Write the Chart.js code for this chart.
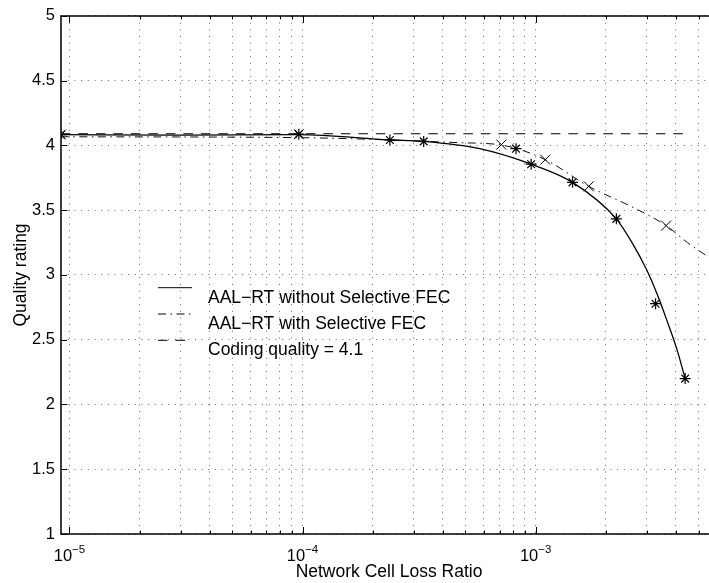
<!DOCTYPE html>
<html>
<head>
<meta charset="utf-8">
<script src="https://cdn.jsdelivr.net/npm/chart.js@4.4.0/dist/chart.umd.min.js"></script>
<style>
html,body{margin:0;padding:0;background:#fff;overflow:hidden}
#wrap{width:709px;height:583px;overflow:hidden}
canvas{display:block}
</style>
</head>
<body>
<div id="wrap"><canvas id="qualityChart" width="725" height="583"></canvas></div>
<script>
// values
const solidCurveX = [9.19e-6, 3.0e-5, 9.64e-5, 2.37e-4, 3.31e-4, 5.75e-4, 9.57e-4, 1.44e-3, 2.22e-3, 2.61e-3, 2.98e-3, 3.34e-3, 3.68e-3, 4.03e-3, 4.38e-3]
const solidCurveY = [4.083, 4.080, 4.083, 4.042, 4.031, 3.975, 3.855, 3.715, 3.433, 3.240, 3.048, 2.842, 2.636, 2.431, 2.200]

const dashDotCurveX = [9.19e-6, 9.64e-5, 2.14e-4, 4.72e-4, 7.13e-4, 1.10e-3, 1.69e-3, 2.63e-3, 3.63e-3, 4.48e-3, 5.51e-3]
const dashDotCurveY = [4.067, 4.060, 4.045, 4.021, 4.003, 3.890, 3.684, 3.520, 3.381, 3.250, 3.139]

const starX = [9.19e-6, 9.64e-5, 2.37e-4, 3.31e-4, 8.24e-4, 9.57e-4, 1.44e-3, 2.22e-3, 3.27e-3, 4.38e-3]
const starY = [4.083, 4.087, 4.042, 4.031, 3.975, 3.855, 3.715, 3.433, 2.778, 2.200]

const crossX = [9.19e-6, 9.64e-5, 7.13e-4, 1.10e-3, 1.69e-3, 3.63e-3]
const crossY = [4.083, 4.087, 4.006, 3.890, 3.684, 3.381]

const codingX = [9.19e-6, 4.43e-3]
const codingY = [4.09, 4.09]

const legendLabels = ['AAL\u2212RT without Selective FEC', 'AAL\u2212RT with Selective FEC', 'Coding quality = 4.1']

const xMin = 9.2e-6
const xMax = 6e-3
const xDecades = [1e-5, 1e-4, 1e-3]
const xDecadeLabels = ['\u22125', '\u22124', '\u22123']
const xMinorSteps = [2, 3, 4, 5, 6, 7, 8, 9]
const yTicks = [1, 1.5, 2, 2.5, 3, 3.5, 4, 4.5, 5]

const FONT = "'Liberation Sans', Arial, Helvetica, sans-serif"

const xTicks = []
xDecades.forEach(d=>{
  xTicks.push({value:d, major:true})
  xMinorSteps.forEach(m=>{
    if(d*m < xMax) xTicks.push({value:d*m, major:false})
  })
})

const pts = (xs, ys) => xs.map((x,i)=>({x, y:ys[i]}))

const solidDash = []
const dashDot = [8, 4.5, 1.5, 4.5]
const dashed = [9.5, 8]

const frameAndLegend = {
  id:'frameAndLegend',
  afterDraw(chart){
    const {ctx, chartArea:a, scales:{x, y}} = chart
    ctx.save()

    // axes box (left, top, bottom)
    ctx.strokeStyle = '#000'
    ctx.lineWidth = 1.5
    ctx.beginPath()
    ctx.moveTo(a.right, a.top)
    ctx.lineTo(a.left, a.top)
    ctx.lineTo(a.left, a.bottom)
    ctx.lineTo(a.right, a.bottom)
    ctx.stroke()

    // tick marks pointing inwards
    ctx.lineWidth = 1
    ctx.beginPath()
    xTicks.forEach(t=>{
      const px = Math.round(x.getPixelForValue(t.value)) + 0.5
      const len = t.major ? 7 : 3.5
      ctx.moveTo(px, a.bottom); ctx.lineTo(px, a.bottom - len)
      ctx.moveTo(px, a.top); ctx.lineTo(px, a.top + len)
    })
    yTicks.forEach(v=>{
      const py = Math.round(y.getPixelForValue(v)) + 0.5
      ctx.moveTo(a.left, py); ctx.lineTo(a.left + 6, py)
    })
    ctx.stroke()

    // x tick labels as 10^n
    ctx.fillStyle = '#000'
    ctx.textAlign = 'left'
    ctx.textBaseline = 'alphabetic'
    xDecades.forEach((d,i)=>{
      const px = x.getPixelForValue(d)
      ctx.font = '16.5px ' + FONT
      const wb = ctx.measureText('10').width
      ctx.font = '11.5px ' + FONT
      const ws = ctx.measureText(xDecadeLabels[i]).width
      const x0 = px - (wb + ws) / 2
      ctx.font = '16.5px ' + FONT
      ctx.fillText('10', x0, a.bottom + 27)
      ctx.font = '11.5px ' + FONT
      ctx.fillText(xDecadeLabels[i], x0 + wb, a.bottom + 18.5)
    })

    // legend, no box
    const styles = [solidDash, dashDot, dashed]
    ctx.font = '17.5px ' + FONT
    legendLabels.forEach((label,i)=>{
      const ly = 287.7 + i * 26.3
      ctx.setLineDash(styles[i])
      ctx.strokeStyle = '#000'
      ctx.lineWidth = 1
      ctx.beginPath()
      ctx.moveTo(158, ly); ctx.lineTo(192, ly)
      ctx.stroke()
      ctx.setLineDash([])
      ctx.fillText(label, 208, ly + 15)
    })
    ctx.restore()
  }
}

new Chart(document.getElementById('qualityChart'),{
  type:'scatter',
  data:{
    datasets:[
      {
        label:legendLabels[0],
        data:pts(solidCurveX, solidCurveY),
        showLine:true,
        borderColor:'#000',
        borderWidth:1.3,
        borderDash:solidDash,
        pointRadius:0,
        cubicInterpolationMode:'monotone'
      },
      {
        label:legendLabels[1],
        data:pts(dashDotCurveX, dashDotCurveY),
        showLine:true,
        borderColor:'#111',
        borderWidth:1,
        borderDash:dashDot,
        pointRadius:0,
        cubicInterpolationMode:'monotone'
      },
      {
        label:legendLabels[2],
        data:pts(codingX, codingY),
        showLine:true,
        borderColor:'#000',
        borderWidth:1.2,
        borderDash:dashed,
        pointRadius:0
      },
      {
        label:'stars',
        data:pts(starX, starY),
        pointStyle:'star',
        pointRadius:5.5,
        borderColor:'#000',
        borderWidth:1.2,
        backgroundColor:'rgba(0,0,0,0)'
      },
      {
        label:'crosses',
        data:pts(crossX, crossY),
        pointStyle:'crossRot',
        pointRadius:7,
        borderColor:'#000',
        borderWidth:1,
        backgroundColor:'rgba(0,0,0,0)'
      }
    ]
  },
  options:{
    responsive:false,
    animation:false,
    layout:{padding:{top:15, right:8, bottom:0, left:0}},
    plugins:{
      legend:{display:false},
      tooltip:{enabled:false}
    },
    scales:{
      x:{
        type:'logarithmic',
        min:xMin,
        max:xMax,
        afterBuildTicks:s=>{ s.ticks = xTicks.map(t=>({value:t.value})) },
        afterFit:s=>{ s.height = 49 },
        ticks:{display:false},
        grid:{color:'rgba(0,0,0,0.6)', lineWidth:1, drawTicks:false},
        border:{display:false, dash:[1,5.7]},
        title:{
          display:true,
          text:'Network Cell Loss Ratio',
          color:'#000',
          font:{family:FONT, size:17.5},
          padding:{top:0, bottom:0}
        }
      },
      y:{
        type:'linear',
        min:1,
        max:5,
        afterBuildTicks:s=>{ s.ticks = yTicks.map(v=>({value:v})) },
        afterFit:s=>{ s.width = 61 },
        ticks:{
          color:'#000',
          padding:6,
          font:{family:FONT, size:16.5},
          callback:v=>String(v)
        },
        grid:{color:'rgba(0,0,0,0.6)', lineWidth:1, drawTicks:false},
        border:{display:false, dash:[1,5.7]},
        title:{
          display:true,
          text:'Quality rating',
          color:'#000',
          font:{family:FONT, size:17.5},
          padding:{top:10.5, bottom:0}
        }
      }
    }
  },
  plugins:[frameAndLegend]
})
</script>
</body>
</html>
